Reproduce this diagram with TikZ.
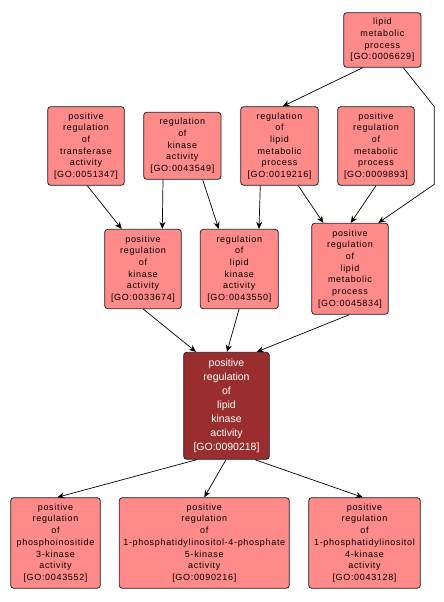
\documentclass[tikz,border=0pt]{standalone}
\usepackage{fontspec}
\setmainfont{Liberation Sans}
\newfontfamily\lightfont[LetterSpace=7.5]{Liberation Sans}
\usetikzlibrary{arrows.meta}
\definecolor{lightred}{HTML}{FF8A8A}
\definecolor{darkred}{HTML}{9A2E2E}
\definecolor{edgeline}{HTML}{222222}
\begin{document}
\begin{tikzpicture}[x=1pt,y=-1pt,
  goterm/.style={draw=edgeline, line width=0.8pt, fill=lightred, rounded corners=3pt,
    inner sep=0pt, align=center, font=\lightfont\fontsize{9}{11.7}\selectfont},
  mainterm/.style={draw=edgeline, line width=0.8pt, fill=darkred, text=white, rounded corners=3pt,
    inner sep=0pt, align=center, font=\fontsize{10.5}{14}\selectfont},
  link/.style={draw=black, line width=0.7pt, -{Stealth[length=7pt,width=6pt]}}]
\useasboundingbox (0,0) rectangle (444,602);
\fill[white] (0,0) rectangle (444,602);

\node[goterm, minimum width=77.3pt, minimum height=54.6pt] (lmp) at (382.35,40)
  {lipid\\metabolic\\process\\{[GO:0006629]}};
\node[goterm, minimum width=76.6pt, minimum height=78.6pt] (prta) at (86,146)
  {positive\\regulation\\of\\transferase\\activity\\{[GO:0051347]}};
\node[goterm, minimum width=77.3pt, minimum height=67pt] (rka) at (182.35,145.8)
  {regulation\\of\\kinase\\activity\\{[GO:0043549]}};
\node[goterm, minimum width=77.6pt, minimum height=78.6pt] (rlmp) at (279.5,146)
  {regulation\\of\\lipid\\metabolic\\process\\{[GO:0019216]}};
\node[goterm, minimum width=76.6pt, minimum height=78.6pt] (prmp) at (376,146)
  {positive\\regulation\\of\\metabolic\\process\\{[GO:0009893]}};
\node[goterm, minimum width=76.6pt, minimum height=79.4pt] (prka) at (143,269)
  {positive\\regulation\\of\\kinase\\activity\\{[GO:0033674]}};
\node[goterm, minimum width=78pt, minimum height=79.4pt] (rlka) at (239.3,269)
  {regulation\\of\\lipid\\kinase\\activity\\{[GO:0043550]}};
\node[goterm, minimum width=76.6pt, minimum height=91pt] (prlmp) at (350,268.8)
  {positive\\regulation\\of\\lipid\\metabolic\\process\\{[GO:0045834]}};
\node[mainterm, minimum width=85.6pt, minimum height=107pt] (main) at (226.5,405.8)
  {positive\\regulation\\of\\lipid\\kinase\\activity\\{[GO:0090218]}};
\node[goterm, minimum width=89.6pt, minimum height=90.6pt] (pi3k) at (55.5,543)
  {positive\\regulation\\of\\phosphoinositide\\3-kinase\\activity\\{[GO:0043552]}};
\node[goterm, minimum width=170pt, minimum height=90.6pt] (pip5k) at (204.3,543)
  {positive\\regulation\\of\\1-phosphatidylinositol-4-phosphate\\5-kinase\\activity\\{[GO:0090216]}};
\node[goterm, minimum width=111.6pt, minimum height=90.6pt] (pi4k) at (364.5,543)
  {positive\\regulation\\of\\1-phosphatidylinositol\\4-kinase\\activity\\{[GO:0043128]}};

\coordinate (bendA) at (434.3,106.7);
\coordinate (bendB) at (434.3,184.3);

\draw[link] ([xshift=-19.65pt]lmp.south) -- ([xshift=3.2pt]rlmp.north);
\draw[link] ([xshift=20.95pt]lmp.south) -- (bendA) -- (bendB) -- ([xshift=28.3pt]prlmp.north);
\draw[link] ([xshift=1.3pt]prta.south) -- ([xshift=-21.3pt]prka.north);
\draw[link] ([xshift=-19.35pt]rka.south) -- ([xshift=19.3pt]prka.north);
\draw[link] ([xshift=20.35pt]rka.south) -- ([xshift=-20.6pt]rlka.north);
\draw[link] ([xshift=-19.2pt]rlmp.south) -- ([xshift=19.7pt]rlka.north);
\draw[link] ([xshift=18.8pt]rlmp.south) -- ([xshift=-26.7pt]prlmp.north);
\draw[link] (prmp.south) -- ([xshift=0.7pt]prlmp.north);
\draw[link] ([xshift=0.3pt]prka.south) -- ([xshift=-30.5pt]main.north);
\draw[link] ([xshift=-0.3pt]rlka.south) -- ([xshift=0.5pt]main.north);
\draw[link] ([xshift=-0.7pt]prlmp.south) -- ([xshift=30.2pt]main.north);
\draw[link] ([xshift=-29.8pt]main.south) -- ([xshift=1.8pt]pi3k.north);
\draw[link] ([xshift=-0.5pt]main.south) -- (pip5k.north);
\draw[link] ([xshift=28.5pt]main.south) -- ([xshift=-1.8pt]pi4k.north);
\end{tikzpicture}
\end{document}
